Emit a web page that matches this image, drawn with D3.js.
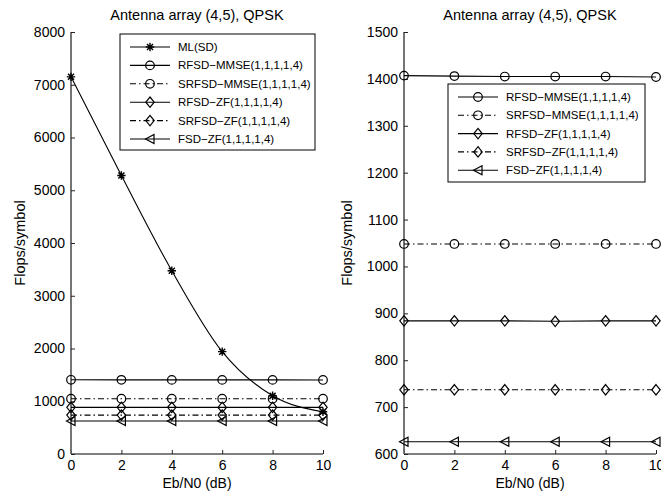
<!DOCTYPE html>
<html><head><meta charset="utf-8">
<script src="https://cdn.jsdelivr.net/npm/d3@7"></script>
<style>body{margin:0;background:#fff}svg{display:block}text{font-family:"Liberation Sans",Arial,sans-serif;fill:#000}</style>
</head><body><svg id="c" width="661" height="497"></svg>
<script>
const snr = [0, 2, 4, 6, 8, 10];
const mlSD = [7150, 5280, 3475, 1940, 1105, 800];
const rfsdMMSE = [1407, 1406, 1405, 1405, 1405, 1404];
const srfsdMMSE = [1048, 1048, 1048, 1048, 1048, 1048];
const rfsdZF = [884, 884, 884, 883, 884, 884];
const srfsdZF = [737, 737, 737, 737, 737, 737];
const fsdZF = [626, 626, 626, 626, 626, 626];
const xTicks = [0, 2, 4, 6, 8, 10];
const yTicksLeft = [0, 1000, 2000, 3000, 4000, 5000, 6000, 7000, 8000];
const yTicksRight = [600, 700, 800, 900, 1000, 1100, 1200, 1300, 1400, 1500];
const title = "Antenna array (4,5), QPSK";
const xLabel = "Eb/N0 (dB)";
const yLabel = "Flops/symbol";

const series = [
  {name: "ML(SD)", values: mlSD, marker: "star", dash: null},
  {name: "RFSD\u2212MMSE(1,1,1,1,4)", values: rfsdMMSE, marker: "circle", dash: null},
  {name: "SRFSD\u2212MMSE(1,1,1,1,4)", values: srfsdMMSE, marker: "circle", dash: "6,3,1.5,3"},
  {name: "RFSD\u2212ZF(1,1,1,1,4)", values: rfsdZF, marker: "diamond", dash: null},
  {name: "SRFSD\u2212ZF(1,1,1,1,4)", values: srfsdZF, marker: "diamond", dash: "6,3,1.5,3"},
  {name: "FSD\u2212ZF(1,1,1,1,4)", values: fsdZF, marker: "triangle", dash: null}
];

const svg = d3.select("#c");
const FONT = "Liberation Sans, Arial, sans-serif";

function drawMarker(g, type, x, y) {
  if (type === "circle") {
    g.append("circle").attr("cx", x).attr("cy", y).attr("r", 4.3)
      .attr("fill", "none").attr("stroke", "#000").attr("stroke-width", 1.2);
  } else if (type === "diamond") {
    g.append("path").attr("d", `M${x},${y-5.2}L${x+4.2},${y}L${x},${y+5.2}L${x-4.2},${y}Z`)
      .attr("fill", "none").attr("stroke", "#000").attr("stroke-width", 1.2);
  } else if (type === "triangle") {
    g.append("path").attr("d", `M${x-4.5},${y}L${x+4},${y-4.5}L${x+4},${y+4.5}Z`)
      .attr("fill", "none").attr("stroke", "#000").attr("stroke-width", 1.2);
  } else if (type === "star") {
    const r = 4.2, d = r * 0.72;
    g.append("path").attr("d",
      `M${x-r},${y}L${x+r},${y}M${x},${y-r}L${x},${y+r}M${x-d},${y-d}L${x+d},${y+d}M${x-d},${y+d}L${x+d},${y-d}`)
      .attr("stroke", "#000").attr("stroke-width", 1.4);
  }
}

function panel(opts) {
  const x = d3.scaleLinear().domain([0, 10]).range([opts.x0, opts.x1]);
  const y = d3.scaleLinear().domain(opts.yDomain).range([454, 32]);
  const g = svg.append("g");

  // axes
  const xa = g.append("g").attr("transform", "translate(0,454)")
    .call(d3.axisBottom(x).tickValues(xTicks).tickSize(-4).tickPadding(8).tickFormat(d3.format("d")));
  xa.select(".domain").attr("stroke", "#555").attr("stroke-width", 1.3).attr("d", `M${opts.x0},0H${opts.x1}`);
  xa.selectAll(".tick line").attr("stroke", "#222");
  xa.selectAll("text").attr("font-size", 14).attr("font-family", FONT).attr("fill", "#000")
    .attr("y", 16).attr("dy", 0);

  const ya = g.append("g").attr("transform", `translate(${opts.x0},0)`)
    .call(d3.axisLeft(y).tickValues(opts.yTicks).tickSize(-4).tickPadding(6).tickFormat(d3.format("d")));
  ya.select(".domain").attr("stroke", "#666").attr("stroke-width", 1.8).attr("d", `M0,454V32`);
  ya.selectAll(".tick line").attr("stroke", "#222");
  ya.selectAll("text").attr("font-size", 14).attr("font-family", FONT).attr("fill", "#000");

  // title and labels
  g.append("text").attr("x", (opts.x0 + opts.x1) / 2).attr("y", 20).attr("text-anchor", "middle")
    .attr("font-size", 14.5).text(title);
  g.append("text").attr("x", (opts.x0 + opts.x1) / 2).attr("y", 488).attr("text-anchor", "middle")
    .attr("font-size", 14).text(xLabel);
  g.append("text").attr("transform", `translate(${opts.yLabelX},243) rotate(-90)`).attr("text-anchor", "middle")
    .attr("font-size", 14.5).text(yLabel);

  // series
  opts.series.forEach(s => {
    const line = d3.line().x((d, i) => x(snr[i])).y(d => y(d))
      .curve(s.marker === "star" ? d3.curveMonotoneX : d3.curveLinear);
    g.append("path").datum(s.values).attr("d", line).attr("fill", "none")
      .attr("stroke", "#000").attr("stroke-width", 1.1)
      .attr("stroke-dasharray", s.dash);
    s.values.forEach((v, i) => drawMarker(g, s.marker, x(snr[i]), y(v)));
  });

  // legend
  const L = opts.legend;
  g.append("rect").attr("x", L.x).attr("y", L.y).attr("width", L.w).attr("height", L.h)
    .attr("fill", "#fff").attr("stroke", "#000").attr("stroke-width", 1);
  opts.series.forEach((s, i) => {
    const yy = L.y + L.first + i * L.step;
    g.append("line").attr("x1", L.x + 10).attr("x2", L.x + 50).attr("y1", yy).attr("y2", yy)
      .attr("stroke", "#000").attr("stroke-width", 1.1).attr("stroke-dasharray", s.dash);
    drawMarker(g, s.marker, L.x + 30, yy);
    g.append("text").attr("x", L.x + 58).attr("y", yy + 4).attr("font-size", 11.5).text(s.name);
  });
}

panel({
  x0: 71, x1: 323, yDomain: [0, 8000], yTicks: yTicksLeft, yLabelX: 25,
  series: series,
  legend: {x: 120, y: 34, w: 195, h: 116, first: 13, step: 18.4}
});
panel({
  x0: 404, x1: 656, yDomain: [600, 1500], yTicks: yTicksRight, yLabelX: 352,
  series: series.slice(1),
  legend: {x: 448, y: 84, w: 197, h: 98, first: 13, step: 18.3}
});
</script></body></html>
